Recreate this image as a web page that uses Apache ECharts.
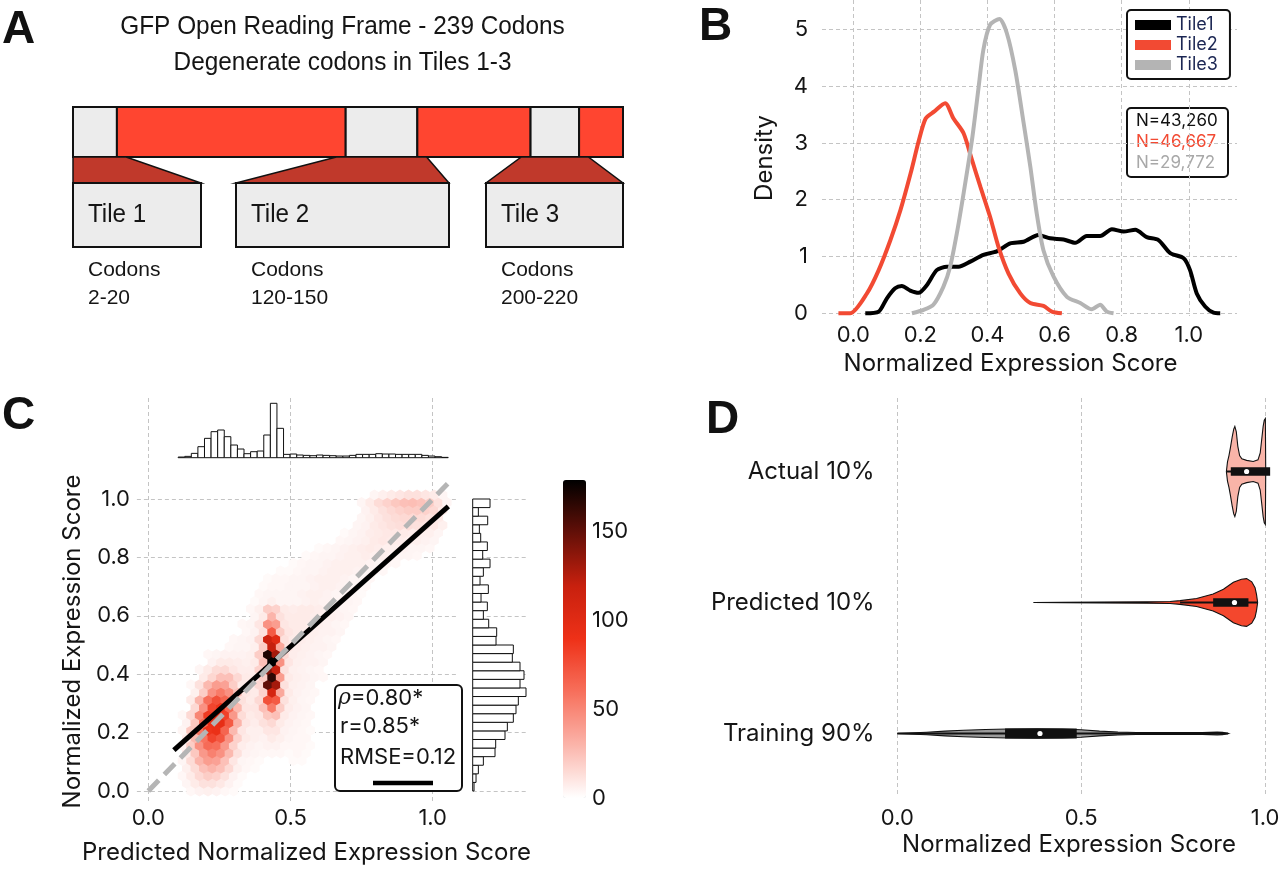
<!DOCTYPE html>
<html><head><meta charset="utf-8">
<script src="https://cdn.jsdelivr.net/npm/echarts@6/dist/echarts.min.js"></script>
<style>html,body{margin:0;padding:0;background:#fff}#chart{width:1280px;height:871px}</style>
</head><body><div id="chart"></div>
<script>
// ================= DATA =================
// Panel A: GFP open reading frame and the three tiles
const orfCodons = 239;
const tileNames = ['Tile 1', 'Tile 2', 'Tile 3'];
const tileStart = [2, 120, 200];
const tileEnd = [20, 150, 220];

// Panel B: density curves (x = normalized expression score, y = density)
const kdeTiles = ['Tile1', 'Tile2', 'Tile3'];
const kdeCounts = ['N=43,260', 'N=46,667', 'N=29,772'];
const tile1X = [0.035,0.075,0.099,0.124,0.144,0.169,0.194,0.219,0.248,0.278,0.313,0.348,0.387,0.427,0.467,0.507,0.551,0.586,0.626,0.661,0.695,0.735,0.770,0.805,0.840,0.874,0.909,0.944,0.984,1.003,1.023,1.048,1.073,1.093];
const tile1Y = [0,0.03,0.26,0.44,0.48,0.40,0.36,0.50,0.76,0.82,0.82,0.91,1.03,1.09,1.23,1.26,1.38,1.32,1.30,1.24,1.36,1.36,1.48,1.44,1.47,1.34,1.29,1.06,0.97,0.76,0.35,0.12,0.01,0];
const tile2X = [-0.045,-0.010,0.040,0.075,0.110,0.140,0.170,0.195,0.215,0.240,0.273,0.298,0.328,0.353,0.378,0.407,0.432,0.462,0.497,0.527,0.566,0.591,0.621];
const tile2Y = [0,0,0.35,0.76,1.29,1.82,2.46,3.05,3.43,3.55,3.70,3.43,3.17,2.70,2.23,1.70,1.17,0.70,0.35,0.18,0.13,0.03,0];
const tile3X = [0.174,0.209,0.238,0.268,0.288,0.308,0.328,0.353,0.373,0.387,0.407,0.435,0.457,0.482,0.507,0.527,0.546,0.566,0.596,0.636,0.676,0.710,0.735,0.755,0.775];
const tile3Y = [0,0.06,0.15,0.47,0.82,1.41,2.11,3.05,3.99,4.64,5.08,5.18,4.93,4.28,3.35,2.58,1.76,1.11,0.65,0.29,0.18,0.07,0.15,0.03,0];

// Panel C: hexbin counts (row r, column c); each row = [first column, counts...]
const hexX0 = 0.09, hexDX = 0.03, hexY0 = 0.0, hexDY = 0.026;
const hexRows = [
 [2,[3,5,6,5,3,2]],
 [1,[4,8,12,12,9,5,2]],
 [1,[3,8,15,20,18,12,5,2]],
 [1,[6,14,25,30,25,15,6,3,2]],
 [1,[4,14,30,40,38,25,10,4,3,2,0,0,0,2,2]],
 [1,[8,22,42,52,45,28,12,5,4,3,3,3,2,3,2]],
 [1,[5,20,45,62,60,42,18,7,5,4,5,5,3,3,3,2]],
 [1,[8,28,58,80,72,45,18,8,6,5,8,6,4,3,3]],
 [1,[4,22,58,88,92,65,28,10,6,6,10,10,5,4,3,2]],
 [1,[5,22,62,92,95,70,30,10,7,12,15,8,5,4,3]],
 [1,[3,15,50,85,98,82,42,14,8,10,22,25,8,5,4,3]],
 [2,[15,45,80,88,62,28,10,10,25,55,20,7,5,4]],
 [2,[8,30,60,75,65,35,12,8,15,75,70,12,6,4,3]],
 [2,[6,20,45,55,45,25,10,8,18,110,35,8,5,4,3]],
 [2,[3,12,28,40,38,20,8,7,15,150,130,12,6,5,4]],
 [3,[8,16,25,25,15,8,8,20,165,40,8,6,5,4,3]],
 [3,[4,8,14,15,10,7,7,18,140,120,12,6,5,4,3]],
 [4,[5,8,8,7,6,8,25,178,45,10,6,5,5,4]],
 [4,[3,4,5,5,5,6,20,170,130,15,7,6,5,4,3]],
 [6,[3,4,4,6,20,120,35,10,7,6,5,5,4]],
 [7,[3,4,5,15,115,100,12,8,7,6,5,4,3]],
 [8,[3,5,12,70,20,10,8,7,6,5,5,4]],
 [8,[3,4,10,45,40,10,8,8,7,6,5,4,3]],
 [9,[4,8,30,12,8,8,8,7,6,6,5,4]],
 [9,[3,6,20,18,8,7,8,8,7,6,5,4,3]],
 [9,[2,4,6,4,4,4,5,6,5,5,4,4,3]],
 [10,[3,4,4,4,4,5,6,6,5,4,4,3,2]],
 [10,[2,3,3,4,4,4,5,6,6,5,4,4,3]],
 [11,[2,3,3,4,4,5,6,6,6,5,4,4,3]],
 [12,[2,2,3,4,4,5,6,6,6,5,4,4,3]],
 [14,[2,3,4,4,5,6,6,6,6,5,4,4,3]],
 [15,[2,3,4,4,5,6,6,7,6,6,5,4,4,3]],
 [17,[2,3,4,5,6,7,8,7,6,6,5,4,4,3]],
 [19,[3,4,5,6,8,9,8,7,6,6,5,4]],
 [20,[2,4,5,7,8,9,9,8,7,6,6,4]],
 [21,[4,5,8,10,12,13,13,12,11,9,6]],
 [22,[4,6,9,12,14,15,15,14,12,8]],
 [22,[5,8,12,15,18,20,20,18,15,8]],
 [22,[4,8,14,18,22,25,26,24,20,12,4]],
 [23,[4,6,8,10,12,12,10,8,4]]
];
const hexMax = 179;
const colorbarTicks = [0, 50, 100, 150];
const regressionLine = [[0.09, 0.14], [1.055, 0.975]];
const identityLine = [[0, 0], [1.055, 1.055]];
const statRho = 0.80, statR = 0.85, statRMSE = 0.12;
// marginal histograms
const topHistStart = 0.105, topHistWidth = 0.02316;
const topHistCounts = [2,4,13,33,58,78,83,63,38,26,12,18,20,68,163,88,10,11,8,7,6,8,7,6,5,5,7,10,10,10,12,11,11,10,10,10,10,7,5,3,1];
const rightHistStart = 0.0, rightHistWidth = 1 / 34;
const rightHistCounts = [4,10,17,32,67,69,97,104,122,130,137,160,142,154,142,119,122,70,72,48,32,44,25,47,22,32,52,30,44,24,20,45,17,52];

// Panel D: violins
const violinCats = ['Actual 10%', 'Predicted 10%', 'Training 90%'];
const actualDensX = [0.895,0.898,0.902,0.906,0.911,0.915,0.918,0.922,0.926,0.931,0.937,0.950,0.968,0.981,0.987,0.991,0.995,0.998,1.001,1.002];
const actualDensW = [0,0.18,0.30,0.45,0.66,0.80,0.85,0.75,0.48,0.30,0.24,0.21,0.19,0.22,0.35,0.60,0.85,0.97,1.0,0];
const predDensX = [0.370,0.450,0.550,0.678,0.742,0.769,0.814,0.859,0.887,0.914,0.936,0.950,0.964,0.973,0.977,0.980];
const predDensW = [0,0.006,0.008,0.012,0.02,0.035,0.075,0.16,0.25,0.38,0.44,0.45,0.39,0.28,0.15,0];
const trainDensX = [0.0,0.03,0.08,0.13,0.18,0.24,0.30,0.38,0.45,0.50,0.55,0.60,0.65,0.75,0.83,0.87,0.885,0.90];
const trainDensW = [0,0.01,0.025,0.045,0.06,0.075,0.085,0.09,0.085,0.07,0.045,0.028,0.02,0.017,0.017,0.025,0.022,0];
const boxQ1 = [0.907, 0.859, 0.293];
const boxMedian = [0.950, 0.917, 0.388];
const boxQ3 = [1.014, 0.955, 0.488];
const whiskerLo = [0.896, 0.769, 0.0];
const whiskerHi = [1.0, 0.979, 0.9];

// ================= STYLE / LAYOUT =================
const FONT = 'Inter, "Noto Sans", sans-serif';
const FONT_A = '"Liberation Sans", Arial, sans-serif';
const TXT = '#151515';
const RED = '#ff4530', DARKRED = '#c0392b', LIGHTGREY = '#ececec';
const kdeColors = ['#000000', '#f24a33', '#b4b4b4'];
const kdeTextColors = ['#111111', '#f24a33', '#a8a8a8'];
const violinColors = ['#f9b4a8', '#f4472d', '#9c9c9c'];
const GRID_LINE = {show: true, lineStyle: {color: '#c4c4c4', width: 1, type: [4, 3]}};
const layoutA = {boxX: [[73, 201], [236, 449], [486, 623]], boxTop: 183, boxBottom: 247, trapPad: 4};
const violinHalfMax = 53, boxHalf = [4.2, 4.2, 5];

function grid(l, t, w, h) { return {left: l, top: t, width: w, height: h, containLabel: false, outerBoundsMode: 'none', show: false}; }
function hidden(gi, min, max) { return {type: 'value', gridIndex: gi, min: min, max: max, show: false}; }
function ticked(gi, min, max, interval, margin, fmt) {
  return {type: 'value', gridIndex: gi, min: min, max: max, interval: interval,
    axisLine: {show: false}, axisTick: {show: false}, splitLine: GRID_LINE,
    axisLabel: {fontFamily: FONT, fontSize: 22, color: TXT, margin: margin, formatter: fmt}};
}
const f1 = v => v.toFixed(1);
const zip = (a, b) => a.map((x, i) => [x, b[i]]);

// derived data for marks
const orfSegments = (function () {
  const segs = []; let pos = 1;
  for (let i = 0; i < tileStart.length; i++) {
    const a = Math.max(1, tileStart[i] - 1), b = tileEnd[i];
    if (a > pos) segs.push([pos, a, 1]);
    segs.push([a, b, 0]); pos = b;
  }
  if (pos < orfCodons) segs.push([pos, orfCodons, 1]);
  return segs;
})();
const hexData = [];
hexRows.forEach((row, r) => {
  row[1].forEach((cnt, k) => {
    if (cnt > 0) hexData.push([hexX0 + (row[0] + k) * hexDX + (r % 2) * hexDX / 2, hexY0 + r * hexDY, cnt]);
  });
});
const topHistData = topHistCounts.map((h, i) => [topHistStart + i * topHistWidth, topHistStart + (i + 1) * topHistWidth, h]);
const rightHistData = rightHistCounts.map((w, i) => [rightHistStart + i * rightHistWidth, rightHistStart + (i + 1) * rightHistWidth, w]);
const violinDens = [[actualDensX, actualDensW], [predDensX, predDensW], [trainDensX, trainDensW]];

function txt(x, y, s, size, extra) {
  return Object.assign({type: 'text', x: x, y: y, silent: true,
    style: Object.assign({text: s, fill: TXT, font: size + 'px ' + FONT, align: 'center', verticalAlign: 'middle'}, (extra && extra.style) || {})},
    extra && extra.rotation !== undefined ? {rotation: extra.rotation} : {});
}

const option = {
  animation: false,
  backgroundColor: '#ffffff',
  textStyle: {fontFamily: FONT},
  grid: [
    grid(73, 107, 550, 50),          // 0 A bar
    grid(822, 29.3, 415, 284),       // 1 B horizontal lines + y labels
    grid(853.3, 0, 335.5, 316),      // 2 B vertical lines + x labels
    grid(822, 0, 415, 316),          // 3 B data
    grid(148.3, 398, 284.4, 405),    // 4 C vertical lines + x labels
    grid(136.9, 499, 321.4, 292),    // 5 C horizontal lines + y labels
    grid(136.9, 469.8, 321.4, 331.4),// 6 C data
    grid(136.9, 400, 321.4, 57.7),   // 7 C top histogram
    grid(472.7, 499, 54.3, 292),     // 8 C right histogram
    grid(563, 480, 23, 318),         // 9 colorbar axis
    grid(897.3, 398, 367.7, 397),    // 10 D vertical lines + x labels
    grid(882.6, 406, 397.1, 393)     // 11 D data
  ],
  xAxis: [
    hidden(0, 1, orfCodons),
    hidden(1, -0.094, 1.143),
    ticked(2, 0, 1, 0.2, 8, f1),
    hidden(3, -0.094, 1.143),
    ticked(4, 0, 1, 0.5, 4, f1),
    hidden(5, -0.04, 1.09),
    hidden(6, -0.04, 1.09),
    hidden(7, -0.04, 1.09),
    hidden(8, 0, 163),
    hidden(9, 0, 1),
    ticked(10, 0, 1, 0.5, 12, f1),
    hidden(11, -0.04, 1.04)
  ],
  yAxis: [
    hidden(0, 0, 1),
    ticked(1, 0, 5, 1, 14, v => String(v)),
    hidden(2, 0, 1),
    hidden(3, -0.0475, 5.516),
    hidden(4, 0, 1),
    ticked(5, 0, 1, 0.2, 7, f1),
    hidden(6, -0.035, 1.1),
    hidden(7, 0, 172.9),
    {type: 'value', gridIndex: 8, min: 0, max: 1, interval: 0.2, axisLine: {show: false}, axisTick: {show: false}, axisLabel: {show: false}, splitLine: GRID_LINE},
    {type: 'value', gridIndex: 9, min: 0, max: hexMax, interval: 50, position: 'right', axisLine: {show: false}, axisTick: {show: false}, splitLine: {show: false},
      axisLabel: {fontFamily: FONT, fontSize: 22, color: TXT, margin: 6, formatter: v => (colorbarTicks.indexOf(v) >= 0 ? String(v) : '')}},
    hidden(10, 0, 1),
    {type: 'category', gridIndex: 11, data: violinCats, inverse: true, axisLine: {show: false}, axisTick: {show: false}, splitLine: {show: false},
      axisLabel: {fontFamily: FONT, fontSize: 24, color: TXT, margin: 8}}
  ],
  visualMap: [{
    type: 'continuous', seriesIndex: 5, dimension: 2, min: 0, max: hexMax,
    inRange: {color: ['#ffffff', '#fbb4aa', '#f7705c', '#ee3118', '#c8200e', '#641008', '#000000']},
    left: 563, top: 480, itemWidth: 23, itemHeight: 318, orient: 'vertical', calculable: false,
    text: null, padding: 0, show: true, hoverLink: false
  }],
  legend: {
    data: kdeTiles, orient: 'vertical', left: 1127, top: 10, icon: 'rect', itemWidth: 36, itemHeight: 10, itemGap: 0,
    padding: [5, 12, 4, 8], borderColor: '#111', borderWidth: 2, borderRadius: 4, backgroundColor: '#fff', selectedMode: false,
    textStyle: {fontFamily: FONT, fontSize: 18, color: '#1b2653', lineHeight: 20}
  },
  series: [
    // 0: A ORF bar segments
    {type: 'custom', xAxisIndex: 0, yAxisIndex: 0, data: orfSegments, encode: {x: [0, 1], y: 2}, silent: true,
      renderItem: function (p, api) {
        const a = api.coord([api.value(0), 1]), b = api.coord([api.value(1), 0]);
        return {type: 'rect', shape: {x: a[0], y: a[1], width: b[0] - a[0], height: b[1] - a[1]},
          style: {fill: api.value(2) ? RED : LIGHTGREY, stroke: '#111', lineWidth: 2}};
      }},
    // 1: A tile insets
    {type: 'custom', xAxisIndex: 0, yAxisIndex: 0, data: tileStart.map((s, i) => [s, tileEnd[i], 0]), encode: {x: [0, 1], y: 2}, silent: true,
      renderItem: function (p, api) {
        const i = p.dataIndex, s = api.value(0), e = api.value(1);
        const barBottom = api.coord([1, 0])[1];
        const t0 = api.coord([Math.max(1, s - 1 - layoutA.trapPad), 0])[0];
        const t1 = api.coord([Math.min(orfCodons, e + layoutA.trapPad), 0])[0];
        const bx = layoutA.boxX[i], bt = layoutA.boxTop, bb = layoutA.boxBottom;
        return {type: 'group', children: [
          {type: 'polygon', shape: {points: [[t0, barBottom], [t1, barBottom], [bx[1], bt], [bx[0], bt]]}, style: {fill: DARKRED, stroke: '#111', lineWidth: 1.5}},
          {type: 'rect', shape: {x: bx[0], y: bt, width: bx[1] - bx[0], height: bb - bt}, style: {fill: LIGHTGREY, stroke: '#111', lineWidth: 2}},
          {type: 'text', x: bx[0] + 15, y: 215, scaleX: 0.93, style: {text: tileNames[i], fill: TXT, font: '26px ' + FONT_A, align: 'left', verticalAlign: 'middle'}},
          {type: 'text', x: bx[0] + 15, y: 270.5, style: {text: 'Codons', fill: TXT, font: '21px ' + FONT_A, align: 'left', verticalAlign: 'middle'}},
          {type: 'text', x: bx[0] + 15, y: 298, style: {text: s + '-' + e, fill: TXT, font: '21px ' + FONT_A, align: 'left', verticalAlign: 'middle'}}
        ]};
      }},
    // 2-4: B density curves
    {type: 'line', name: kdeTiles[0], xAxisIndex: 3, yAxisIndex: 3, data: zip(tile1X, tile1Y), symbol: 'none', smooth: 0.25, color: kdeColors[0], lineStyle: {width: 4, color: kdeColors[0]}},
    {type: 'line', name: kdeTiles[1], xAxisIndex: 3, yAxisIndex: 3, data: zip(tile2X, tile2Y), symbol: 'none', smooth: 0.25, color: kdeColors[1], lineStyle: {width: 4, color: kdeColors[1]}},
    {type: 'line', name: kdeTiles[2], xAxisIndex: 3, yAxisIndex: 3, data: zip(tile3X, tile3Y), symbol: 'none', smooth: 0.25, color: kdeColors[2], lineStyle: {width: 4, color: kdeColors[2]}},
    // 5: C hexbin
    {type: 'custom', xAxisIndex: 6, yAxisIndex: 6, data: hexData, encode: {x: 0, y: 1}, silent: true,
      renderItem: function (p, api) {
        const c = api.coord([api.value(0), api.value(1)]);
        const r = api.size([0, hexDY])[1] / 1.5 + 0.35;
        const pts = [];
        for (let k = 0; k < 6; k++) { const a = Math.PI / 180 * (60 * k + 30); pts.push([c[0] + r * Math.cos(a), c[1] + r * Math.sin(a)]); }
        return {type: 'polygon', shape: {points: pts}, style: {fill: api.visual('color')}};
      }},
    // 6: regression line
    {type: 'line', xAxisIndex: 6, yAxisIndex: 6, data: regressionLine, symbol: 'none', silent: true, lineStyle: {width: 5, color: '#000', cap: 'butt'}},
    // 7: identity line
    {type: 'line', xAxisIndex: 6, yAxisIndex: 6, data: identityLine, symbol: 'none', silent: true, lineStyle: {width: 5, color: '#b5b5b5', type: [15, 8], cap: 'butt'}},
    // 8: top histogram
    {type: 'custom', xAxisIndex: 7, yAxisIndex: 7, data: topHistData, encode: {x: [0, 1], y: 2}, silent: true,
      renderItem: function (p, api) {
        const a = api.coord([api.value(0), 0]), b = api.coord([api.value(1), api.value(2)]);
        return {type: 'rect', shape: {x: a[0], y: b[1], width: b[0] - a[0], height: a[1] - b[1]}, style: {fill: '#fff', stroke: '#111', lineWidth: 1}};
      }},
    // 9: right histogram
    {type: 'custom', xAxisIndex: 8, yAxisIndex: 8, data: rightHistData, encode: {y: [0, 1], x: 2}, silent: true,
      renderItem: function (p, api) {
        const a = api.coord([0, api.value(0)]), b = api.coord([api.value(2), api.value(1)]);
        return {type: 'rect', shape: {x: a[0], y: b[1], width: b[0] - a[0], height: a[1] - b[1]}, style: {fill: '#fff', stroke: '#111', lineWidth: 1}};
      }},
    // 10: D violins
    {type: 'custom', xAxisIndex: 11, yAxisIndex: 11, data: violinCats.map((c, i) => [boxMedian[i], i]), encode: {x: 0, y: 1}, silent: true,
      renderItem: function (p, api) {
        const i = p.dataIndex, xs = violinDens[i][0], ws = violinDens[i][1];
        const cy = api.coord([0, i])[1];
        const top = [], bot = [];
        for (let k = 0; k < xs.length; k++) {
          const px = api.coord([xs[k], i])[0];
          top.push([px, cy - ws[k] * violinHalfMax]);
          bot.push([px, cy + ws[k] * violinHalfMax]);
        }
        const pts = top.concat(bot.reverse());
        const lo = api.coord([whiskerLo[i], i])[0], hi = api.coord([whiskerHi[i], i])[0];
        const q1 = api.coord([boxQ1[i], i])[0], q3 = api.coord([boxQ3[i], i])[0];
        const md = api.coord([boxMedian[i], i])[0];
        return {type: 'group', children: [
          {type: 'polygon', shape: {points: pts}, style: {fill: violinColors[i], stroke: '#111', lineWidth: 1.1}},
          {type: 'line', shape: {x1: lo, y1: cy, x2: hi, y2: cy}, style: {stroke: '#111', lineWidth: 1.8}},
          {type: 'rect', shape: {x: q1, y: cy - boxHalf[i], width: q3 - q1, height: 2 * boxHalf[i]}, style: {fill: '#111'}},
          {type: 'circle', shape: {cx: md, cy: cy, r: 2.6}, style: {fill: '#fff'}}
        ]};
      }}
  ],
  graphic: {elements: [
    // panel letters
    {type: 'text', x: 2, y: 30, style: {text: 'A', font: 'bold 46px ' + FONT_A, fill: '#111', align: 'left', verticalAlign: 'middle'}},
    {type: 'text', x: 699, y: 27, style: {text: 'B', font: 'bold 46px ' + FONT_A, fill: '#111', align: 'left', verticalAlign: 'middle'}},
    {type: 'text', x: 2, y: 416, style: {text: 'C', font: 'bold 46px ' + FONT_A, fill: '#111', align: 'left', verticalAlign: 'middle'}},
    {type: 'text', x: 706, y: 420, style: {text: 'D', font: 'bold 46px ' + FONT_A, fill: '#111', align: 'left', verticalAlign: 'middle'}},
    // panel A titles
    {type: 'text', x: 342.5, y: 27, scaleX: 0.92, style: {text: 'GFP Open Reading Frame - ' + orfCodons + ' Codons', font: '26.5px ' + FONT_A, fill: TXT, align: 'center', verticalAlign: 'middle'}},
    {type: 'text', x: 342.5, y: 63, scaleX: 0.92, style: {text: 'Degenerate codons in Tiles 1-3', font: '26.5px ' + FONT_A, fill: TXT, align: 'center', verticalAlign: 'middle'}},
    // panel B axis titles
    txt(1010.5, 364, 'Normalized Expression Score', 24),
    txt(765, 158, 'Density', 24, {rotation: Math.PI / 2}),
    // panel B N box
    {type: 'rect', shape: {x: 1127, y: 108, width: 101, height: 69, r: 4}, style: {fill: '#fff', stroke: '#111', lineWidth: 2}},
    {type: 'text', x: 1136, y: 121, style: {text: kdeCounts[0], fill: kdeTextColors[0], font: '17px ' + FONT, align: 'left', verticalAlign: 'middle'}},
    {type: 'text', x: 1136, y: 142, style: {text: kdeCounts[1], fill: kdeTextColors[1], font: '17px ' + FONT, align: 'left', verticalAlign: 'middle'}},
    {type: 'text', x: 1136, y: 163, style: {text: kdeCounts[2], fill: kdeTextColors[2], font: '17px ' + FONT, align: 'left', verticalAlign: 'middle'}},
    // panel C axis titles
    txt(73, 641.5, 'Normalized Expression Score', 24, {rotation: Math.PI / 2}),
    txt(306.5, 853, 'Predicted Normalized Expression Score', 24),
    // panel C stats box
    {type: 'rect', shape: {x: 335, y: 685, width: 127, height: 106, r: 5}, style: {fill: '#fff', stroke: '#111', lineWidth: 2}, z: 10},
    {type: 'text', x: 338, y: 698, z: 11, style: {text: '{it|ρ}=' + statRho.toFixed(2) + '*', fill: TXT, font: '22px ' + FONT, align: 'left', verticalAlign: 'middle',
      rich: {it: {fontStyle: 'italic', fontSize: 22, fontFamily: 'DejaVu Serif, serif', fill: TXT}}}},
    {type: 'text', x: 340, y: 726, z: 11, style: {text: 'r=' + statR.toFixed(2) + '*', fill: TXT, font: '22px ' + FONT, align: 'left', verticalAlign: 'middle'}},
    {type: 'text', x: 340, y: 757, z: 11, style: {text: 'RMSE=' + statRMSE.toFixed(2), fill: TXT, font: '22px ' + FONT, align: 'left', verticalAlign: 'middle'}},
    {type: 'line', shape: {x1: 373, y1: 783, x2: 433, y2: 783}, style: {stroke: '#000', lineWidth: 4.5}, z: 11},
    // panel D axis title
    txt(1069, 845, 'Normalized Expression Score', 24)
  ]}
};

const chart = echarts.init(document.getElementById('chart'), null, {renderer: 'canvas', width: 1280, height: 871});
chart.setOption(option);
</script></body></html>
